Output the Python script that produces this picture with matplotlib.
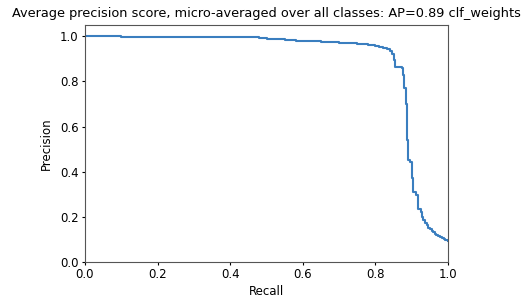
import numpy as np
import matplotlib
matplotlib.use("Agg")
import matplotlib.pyplot as plt

# precision-recall curve (step, where='post')
recall = [0.00, 0.10, 0.20, 0.30, 0.40, 0.45, 0.48, 0.50, 0.52, 0.55, 0.58,
          0.60, 0.63, 0.65, 0.68, 0.70, 0.73, 0.75, 0.78, 0.80, 0.81, 0.822,
          0.832, 0.84, 0.845, 0.850, 0.854, 0.866, 0.872, 0.876, 0.880,
          0.883, 0.886, 0.888, 0.889, 0.895, 0.900, 0.902, 0.904, 0.912,
          0.916, 0.918, 0.926, 0.929, 0.932, 0.937, 0.941, 0.946, 0.950,
          0.955, 0.959, 0.964, 0.968, 0.973, 0.978, 0.983, 0.988, 0.992,
          0.996, 1.00]
precision = [1.00, 0.998, 0.996, 0.995, 0.995, 0.995, 0.992, 0.989, 0.986,
             0.983, 0.981, 0.979, 0.977, 0.976, 0.974, 0.972, 0.969, 0.966,
             0.962, 0.958, 0.954, 0.948, 0.942, 0.933, 0.92, 0.895, 0.866,
             0.864, 0.860, 0.83, 0.77, 0.70, 0.63, 0.54, 0.45, 0.444, 0.42,
             0.37, 0.31, 0.296, 0.27, 0.236, 0.221, 0.20, 0.184, 0.172, 0.162,
             0.152, 0.146, 0.138, 0.132, 0.126, 0.120, 0.115, 0.110, 0.106,
             0.102, 0.099, 0.096, 0.094]

AP = 0.89
TAG = "clf_weights"

fig = plt.figure(figsize=(5.23, 2.97), dpi=100)
ax = fig.add_axes([85/523, 35/297, 363/523, 237/297])
ax.step(recall, precision, where="post", color="#3a7ebf", lw=1.5)
ax.set_xlim(0, 1)
ax.set_ylim(0, 1.05)
ax.set_xlabel("Recall", fontsize=8.5, labelpad=3)
ax.set_ylabel("Precision", fontsize=8.5, labelpad=5)
ax.tick_params(labelsize=8.5, length=2.5, pad=2)
for s in ax.spines.values():
    s.set_color("#555555")
ax.set_title(f"Average precision score, micro-averaged over all classes: AP={AP:.2f} {TAG}",
             fontsize=9.3)
fig.savefig("out.png", dpi=100)
